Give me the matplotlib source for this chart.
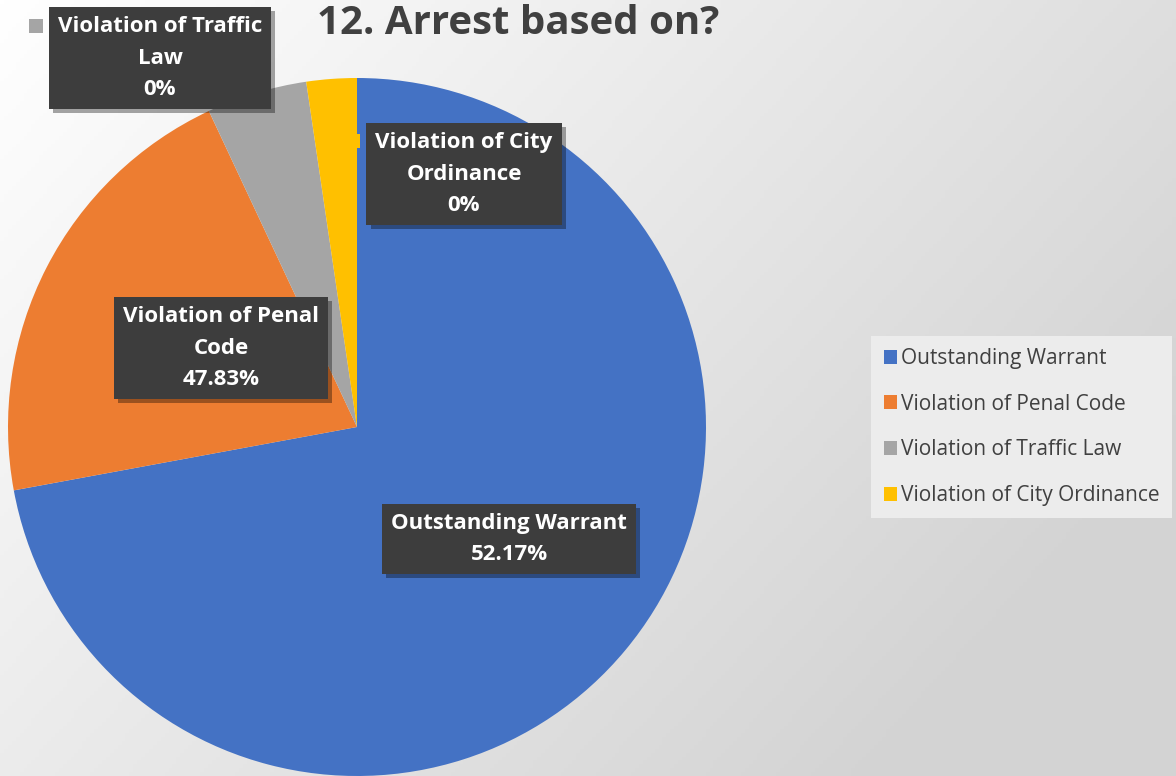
import numpy as np
import matplotlib.pyplot as plt
import matplotlib.patheffects as pe
from matplotlib.patches import Rectangle

plt.rcParams['font.family'] = ['Open Sans', 'DejaVu Sans']

# data
categories = ["Outstanding Warrant", "Violation of Penal Code",
              "Violation of Traffic Law", "Violation of City Ordinance"]
counts = [31, 9, 2, 1]
label_pcts = ["52.17%", "47.83%", "0%", "0%"]
label_names = ["Outstanding Warrant", "Violation of Penal\nCode",
               "Violation of Traffic\nLaw", "Violation of City\nOrdinance"]
colors = ["#4472C4", "#ED7D31", "#A5A5A5", "#FFC000"]

W, H = 1176, 776
fig = plt.figure(figsize=(W / 100, H / 100), dpi=100)
ax = fig.add_axes([0, 0, 1, 1])

# background gradient, white top-left to light gray bottom-right
yy, xx = np.mgrid[0:1:200j, 0:1:300j]
g = 1.0 - 0.17 * np.clip((0.75 * xx + 0.45 * yy), 0, 1)
ax.imshow(np.dstack([g, g, g]), extent=(0, W, 0, H), origin="upper",
          aspect="auto", zorder=0)

cx, cy, r = 357, H - 427, 349
wedges, _ = ax.pie(counts, colors=colors, startangle=90, counterclock=False,
                   center=(cx, cy), radius=r, frame=True,
                   wedgeprops=dict(linewidth=0))
for w in wedges:
    w.set_zorder(2)

ax.set_xlim(0, W)
ax.set_ylim(0, H)
ax.set_aspect("auto")
ax.axis("off")

# data label boxes (pixel centres)
label_pos = [(509, 539), (221, 348), (160, 58), (464, 174)]
for name, pct, (x, y) in zip(label_names, label_pcts, label_pos):
    t = ax.text(x, H - y, f"{name}\n{pct}", ha="center", va="center",
                color="white", fontsize=16, fontweight="bold",
                linespacing=1.66, zorder=5,
                bbox=dict(boxstyle="square,pad=0.4", facecolor="#3d3d3d",
                          edgecolor="none"))
    t.get_bbox_patch().set_path_effects(
        [pe.SimplePatchShadow(offset=(3, -3), shadow_rgbFace="#000000", alpha=0.35),
         pe.Normal()])

# small legend keys beside the two outside labels
ax.add_patch(Rectangle((29, H - 33), 14, 14, facecolor=colors[2], zorder=4))
ax.add_patch(Rectangle((352, H - 148), 8, 14, facecolor=colors[3], zorder=4))

fig.text(518 / W, 1 - 24 / H, "12. Arrest based on?", ha="center", va="center",
         fontsize=29, fontweight="bold", color="#404040")

leg = fig.legend(wedges, categories, loc="center left",
                 bbox_to_anchor=(871 / W, 1 - 427 / H), frameon=True,
                 fontsize=15, labelcolor="#404040", handlelength=0.65,
                 handleheight=0.65, handletextpad=0.2, labelspacing=1.18,
                 borderpad=0.6, borderaxespad=0, fancybox=False)
leg.get_frame().set_facecolor("#ececec")
leg.get_frame().set_edgecolor("none")
leg.get_frame().set_alpha(1)

fig.savefig("out.png", dpi=100)
